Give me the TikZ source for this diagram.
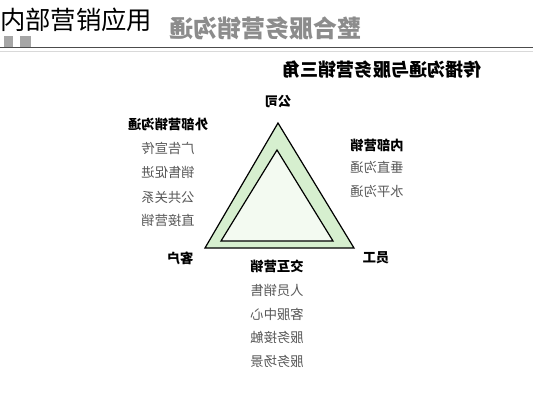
\documentclass[tikz,border=0pt]{standalone}
\usepackage{fontspec}
\setmainfont{Noto Sans CJK SC}
\usetikzlibrary{positioning}
\definecolor{triout}{HTML}{D6EFCF}
\definecolor{triin}{HTML}{F3FAF1}

\begin{document}
\begin{tikzpicture}[x=0.75pt,y=-0.75pt,
    mirror/.style={xscale=-1, inner sep=0pt},
    head/.style={mirror, font=\bfseries\fontsize{10}{11}\selectfont},
    item/.style={mirror, text=black!65, font=\fontsize{10}{11}\selectfont}]
        \useasboundingbox[fill=white] (0,0) rectangle (533,400);
        \node[anchor=west, inner sep=0pt, font=\fontsize{19}{20}\selectfont] (app) at (0,20) {内部营销应用};
        \node[mirror, text=black!45, font=\bfseries\fontsize{18}{19}\selectfont] (title) at (265,28) {整合服务营销沟通};
        \fill[black!35] (4,36) rectangle (13,47);
        \fill[black!35] (20,36) rectangle (31,47);
        \draw[line width=1.2pt, black!70] (0,47.5)--(533,47.5);
        \draw[thin, black!15] (0,51)--(533,51);
        \node[mirror, font=\bfseries\fontsize{13.6}{14}\selectfont] (sub) at (382,70) {传播沟通与服务营销三角};

        \coordinate (top) at (278,123);
        \coordinate (bl) at (205,248);
        \coordinate (br) at (354,248);
        \coordinate (itop) at (277,150);
        \coordinate (ibl) at (221,241);
        \coordinate (ibr) at (333,241);
        \draw[line width=0.9pt, fill=triout] (top)--(bl)--(br)--cycle;
        \draw[line width=0.9pt, fill=triin] (itop)--(ibl)--(ibr)--cycle;

        \node[head] (company) at (278,102) {公司};
        \node[head] (customer) at (180,258) {客户};
        \node[head] (staff) at (376,258) {员工};

        \node[head] (ext) at (168,124) {外部营销沟通};
        \foreach \t/\y [count=\i] in {广告宣传/148, 销售促进/172, 公共关系/197, 直接营销/220}
            \node[item] (ext\i) at (168,\y) {\t};

        \node[head] (int) at (377,145) {内部营销};
        \foreach \t/\y [count=\i] in {垂直沟通/167, 水平沟通/191}
            \node[item] (int\i) at (377,\y) {\t};

        \node[head] (inter) at (277,266) {交互营销};
        \foreach \t/\y [count=\i] in {人员销售/290, 客服中心/314, 服务接触/337, 服务场景/361}
            \node[item] (inter\i) at (277,\y) {\t};
    \end{tikzpicture}
\end{document}
